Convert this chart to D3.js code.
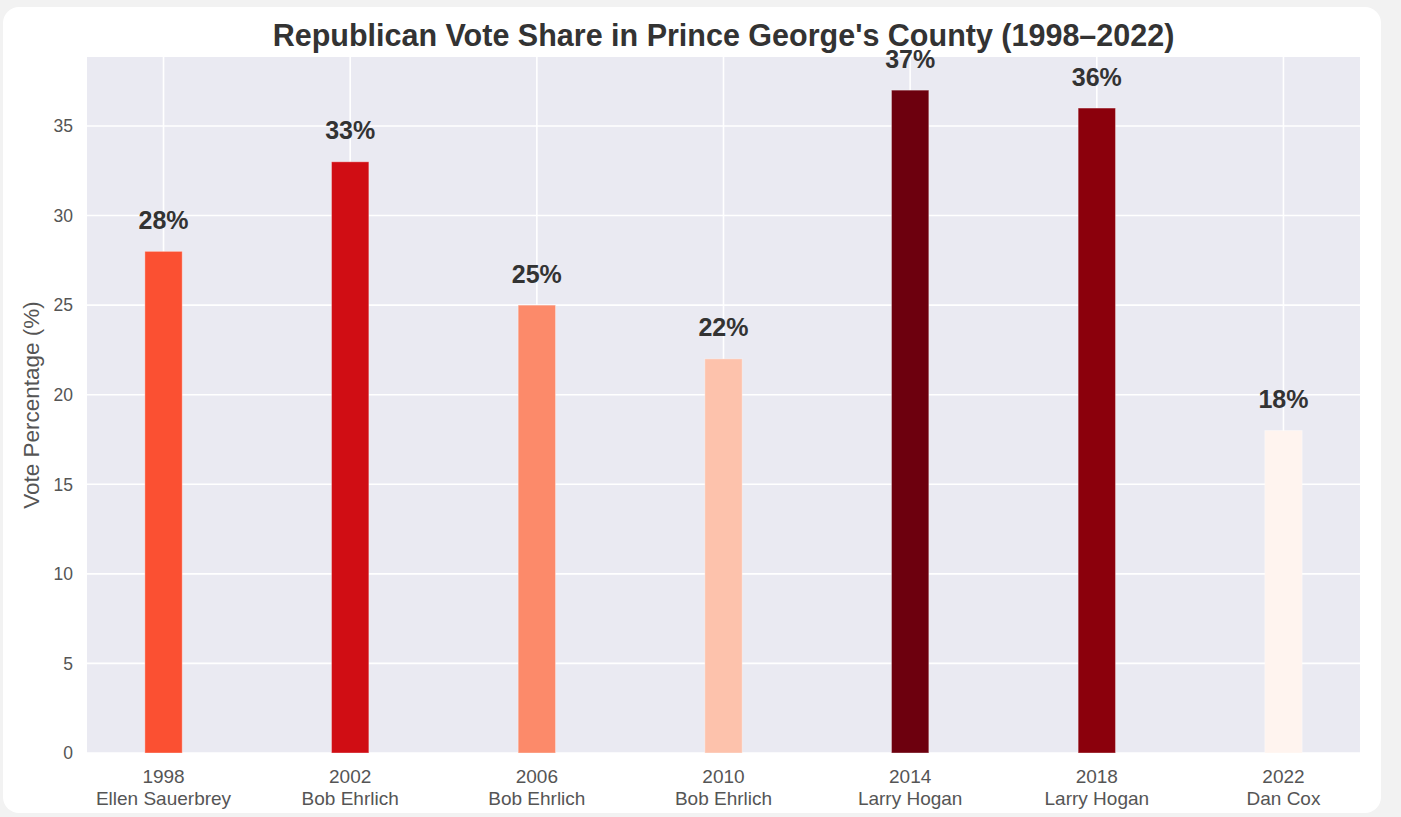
<!DOCTYPE html>
<html><head><meta charset="utf-8">
<script src="https://cdn.jsdelivr.net/npm/d3@7"></script>
<style>
html,body{margin:0;padding:0;background:#f2f2f2;}
svg{display:block;font-family:"Liberation Sans",Arial,sans-serif;}
</style></head>
<body>
<svg id="c" width="1401" height="817"></svg>
<script>
const years = ["1998","2002","2006","2010","2014","2018","2022"];
const candidates = ["Ellen Sauerbrey","Bob Ehrlich","Bob Ehrlich","Bob Ehrlich","Larry Hogan","Larry Hogan","Dan Cox"];
const votes = [28,33,25,22,37,36,18];
const barColors = ["#fb5032","#d00d14","#fc8a6a","#fdc2ac","#6d000e","#8b000c","#fff4ef"];
const yTicks = [0,5,10,15,20,25,30,35];

const svg = d3.select("#c");
// card
svg.append("rect").attr("x",3).attr("y",7).attr("width",1378).attr("height",806)
  .attr("rx",16).attr("fill","#fff");

const L=87, R=1360, T=57, B=753;
const x = d3.scaleLinear().domain([-0.41, 6.41]).range([L,R]);
const y = d3.scaleLinear().domain([0, 38.85]).range([B,T]);
const bw = x(0.2)-x(0);

svg.append("rect").attr("x",L).attr("y",T).attr("width",R-L).attr("height",B-T).attr("fill","#eaeaf2");

const g = svg.append("g");
// grid
g.selectAll(".hg").data(yTicks).join("line")
  .attr("x1",L).attr("x2",R).attr("y1",d=>y(d)).attr("y2",d=>y(d))
  .attr("stroke","#fff").attr("stroke-width",1.6);
g.selectAll(".vg").data(years).join("line")
  .attr("x1",(d,i)=>x(i)).attr("x2",(d,i)=>x(i)).attr("y1",T).attr("y2",B)
  .attr("stroke","#fff").attr("stroke-width",1.6);

// bars
g.selectAll(".bar").data(votes).join("rect")
  .attr("x",(d,i)=>x(i)-bw/2).attr("width",bw)
  .attr("y",d=>y(d)).attr("height",d=>B-y(d))
  .attr("fill",(d,i)=>barColors[i])
  .attr("stroke","rgba(255,255,255,0.35)").attr("stroke-width",1);

// value labels
g.selectAll(".lbl").data(votes).join("text")
  .attr("x",(d,i)=>x(i)).attr("y",d=>y(d+1)-4.5)
  .attr("text-anchor","middle").attr("font-size",25).attr("font-weight","bold")
  .attr("fill","#333").text(d=>d+"%");

// y axis ticks
svg.selectAll(".yt").data(yTicks).join("text")
  .attr("x",73).attr("y",d=>y(d)).attr("dy","0.36em").attr("text-anchor","end")
  .attr("font-size",17.5).attr("fill","#555").text(d=>d);

// x tick labels
const xt = svg.selectAll(".xt").data(years).join("text")
  .attr("text-anchor","middle").attr("font-size",19).attr("fill","#555");
xt.append("tspan").attr("x",(d,i)=>x(i)).attr("y",783).text(d=>d);
xt.append("tspan").attr("x",(d,i)=>x(i)).attr("y",805).text((d,i)=>candidates[i]);

// y label
svg.append("text").attr("transform",`translate(39,${(T+B)/2}) rotate(-90)`)
  .attr("text-anchor","middle").attr("font-size",22.5).attr("fill","#555")
  .text("Vote Percentage (%)");

// title
svg.append("text").attr("x",(L+R)/2).attr("y",46).attr("text-anchor","middle")
  .attr("font-size",30.5).attr("font-weight","bold").attr("fill","#333")
  .text("Republican Vote Share in Prince George's County (1998–2022)");
</script>
</body></html>
